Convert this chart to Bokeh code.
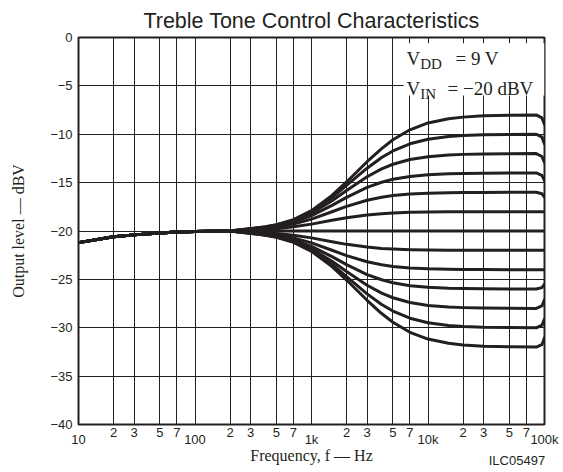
from bokeh.plotting import figure
from bokeh.models import (Range1d, FixedTicker, CustomJSTickFormatter, Label, BoxAnnotation,
                          LogAxis)
from bokeh.embed import file_html
from bokeh.resources import INLINE

INK = "#231f20"

# ---- data ----
freq_hz = [10, 20, 30, 50, 70, 100, 200, 300, 400, 500, 700, 1000, 1500, 2000, 3000, 4000,
           5000, 7000, 10000, 15000, 20000, 30000, 50000, 85000, 95000, 100000]

low_part = [-21.2, -20.6, -20.4, -20.2, -20.1, -20.05, -20.0]

boost_12 = low_part + [-19.75, -19.57, -19.35, -18.82, -17.90, -16.32, -14.93, -12.84, -11.48, -10.57, -9.54, -8.83, -8.39, -8.23, -8.10, -8.04, -8.0, -8.3, -9.0]
boost_10 = low_part + [-19.76, -19.59, -19.38, -18.87, -18.00, -16.54, -15.29, -13.51, -12.41, -11.73, -10.99, -10.52, -10.24, -10.14, -10.06, -10.02, -10.0, -10.3, -11.0]
boost_8 = low_part + [-19.78, -19.62, -19.42, -18.96, -18.16, -16.87, -15.81, -14.39, -13.58, -13.10, -12.61, -12.32, -12.14, -12.08, -12.04, -12.01, -12.0, -12.3, -12.9]
boost_6 = low_part + [-19.81, -19.66, -19.49, -19.08, -18.41, -17.35, -16.53, -15.50, -14.96, -14.65, -14.36, -14.18, -14.08, -14.05, -14.02, -14.01, -14.0, -14.25, -14.8]
boost_4 = low_part + [-19.84, -19.73, -19.59, -19.28, -18.77, -18.01, -17.46, -16.82, -16.51, -16.34, -16.18, -16.09, -16.04, -16.02, -16.01, -16.00, -16.0, -16.15, -16.5]
boost_2 = low_part + [-19.91, -19.84, -19.76, -19.57, -19.29, -18.89, -18.63, -18.34, -18.21, -18.14, -18.07, -18.04, -18.02, -18.01, -18.00, -18.00, -18.0, -18.0, -18.0]
flat_0 = low_part + [-20.0] * 19
cut_2 = low_part + [-20.09, -20.16, -20.25, -20.43, -20.71, -21.11, -21.38, -21.66, -21.80, -21.86, -21.93, -21.97, -21.98, -21.99, -22.00, -22.00, -22.0, -22.0, -22.0]
cut_4 = low_part + [-20.16, -20.27, -20.41, -20.72, -21.23, -21.99, -22.54, -23.18, -23.49, -23.66, -23.82, -23.91, -23.96, -23.98, -23.99, -24.00, -24.0, -24.0, -24.0]
cut_6 = low_part + [-20.19, -20.34, -20.51, -20.92, -21.59, -22.65, -23.47, -24.50, -25.04, -25.35, -25.65, -25.82, -25.92, -25.95, -25.98, -25.99, -26.0, -25.85, -25.5]
cut_8 = low_part + [-20.22, -20.38, -20.58, -21.04, -21.84, -23.13, -24.19, -25.61, -26.42, -26.90, -27.39, -27.69, -27.86, -27.92, -27.96, -27.99, -28.0, -27.75, -27.1]
cut_10 = low_part + [-20.24, -20.41, -20.62, -21.13, -22.00, -23.46, -24.71, -26.50, -27.59, -28.27, -29.01, -29.48, -29.76, -29.86, -29.94, -29.98, -30.0, -29.75, -29.1]
cut_12 = low_part + [-20.25, -20.43, -20.65, -21.18, -22.10, -23.68, -25.07, -27.16, -28.53, -29.43, -30.47, -31.17, -31.61, -31.78, -31.90, -31.96, -32.0, -31.75, -31.05]

all_curves = [boost_12, boost_10, boost_8, boost_6, boost_4, boost_2, flat_0,
              cut_2, cut_4, cut_6, cut_8, cut_10, cut_12]

decade_ticks = [10, 100, 1000, 10000, 100000]
decade_labels = ["10", "100", "1k", "10k", "100k"]
minor_ticks = [20, 30, 50, 70, 200, 300, 500, 700, 2000, 3000, 5000, 7000, 20000, 30000, 50000, 70000]
minor_labels = ["2", "3", "5", "7"] * 4
y_ticks = [0, -5, -10, -15, -20, -25, -30, -35, -40]
id_anchor = [58000]
id_text = ["ILC05497"]

LOOKUP = """
for (let i = 0; i < tvals.length; i++) {
  if (Math.abs(tvals[i] - tick) <= 1e-6 * tvals[i]) return tlabels[i];
}
return '';
"""

# ---- figure ----
p = figure(width=562, height=471, x_axis_type="log",
           x_range=Range1d(10, 100000), y_range=Range1d(-40, 0),
           output_backend="svg", toolbar_location=None,
           min_border_left=78, min_border_right=18, min_border_top=37, min_border_bottom=47)

p.title.text = "Treble Tone Control Characteristics"
p.title.align = "center"
p.title.text_font = "Liberation Sans"
p.title.text_font_size = "21.5px"
p.title.text_font_style = "normal"
p.title.text_color = INK
p.title.standoff = 9

grid_x = sorted(decade_ticks + minor_ticks)
p.xgrid.ticker = FixedTicker(ticks=grid_x)
p.ygrid.ticker = FixedTicker(ticks=y_ticks)
for g in (p.xgrid, p.ygrid):
    g.grid_line_color = INK
    g.grid_line_width = 1
    g.grid_line_alpha = 1

p.outline_line_color = INK
p.outline_line_width = 2
p.background_fill_color = "white"


def style_x(ax, size="13px"):
    ax.major_label_text_font = "Liberation Sans"
    ax.major_label_text_font_size = size
    ax.major_label_text_color = INK
    ax.major_tick_in = 0
    ax.major_tick_out = 0
    ax.minor_tick_in = 0
    ax.minor_tick_out = 0
    ax.axis_line_color = None


# inner x axis: 2 3 5 7 digits
xa = p.xaxis[0]
xa.ticker = FixedTicker(ticks=minor_ticks)
xa.formatter = CustomJSTickFormatter(args=dict(tvals=minor_ticks, tlabels=minor_labels), code=LOOKUP)
style_x(xa)
xa.major_label_standoff = 3

# outer x axis: decade labels, sitting slightly lower, plus the axis title
xb = LogAxis(ticker=FixedTicker(ticks=decade_ticks),
             formatter=CustomJSTickFormatter(args=dict(tvals=decade_ticks, tlabels=decade_labels), code=LOOKUP))
style_x(xb)
xb.major_label_standoff = -8
xb.axis_label = "Frequency, f \u2014 Hz"
xb.axis_label_text_font = "Liberation Serif"
xb.axis_label_text_font_size = "16px"
xb.axis_label_text_font_style = "normal"
xb.axis_label_text_color = INK
xb.axis_label_standoff = -3
p.add_layout(xb, "below")

# drawing id, bottom right (an extra label-only axis pulled up beside the axis title)
xc = LogAxis(ticker=FixedTicker(ticks=id_anchor),
             formatter=CustomJSTickFormatter(args=dict(tvals=id_anchor, tlabels=id_text), code=LOOKUP))
style_x(xc, "13px")
xc.major_label_standoff = -14
p.add_layout(xc, "below")

ya = p.yaxis[0]
ya.ticker = FixedTicker(ticks=y_ticks)
ya.formatter = CustomJSTickFormatter(code="return tick < 0 ? '\\u2212' + Math.abs(tick) : String(tick);")
ya.major_label_text_font = "Liberation Sans"
ya.major_label_text_font_size = "13px"
ya.major_label_text_color = INK
ya.major_label_standoff = 6
ya.major_tick_in = 0
ya.major_tick_out = 0
ya.minor_tick_in = 0
ya.minor_tick_out = 0
ya.axis_line_color = None
ya.axis_label = "Output level \u2014 dBV"
ya.axis_label_text_font = "Liberation Serif"
ya.axis_label_text_font_size = "16px"
ya.axis_label_text_font_style = "normal"
ya.axis_label_text_color = INK
ya.axis_label_standoff = 20

# legend box (white, hides grid)
p.add_layout(BoxAnnotation(left=6200, right=100000, top=-0.6, bottom=-6.0,
                           fill_color="white", fill_alpha=1, line_color=None, level="underlay"))

for ys in all_curves:
    p.line(freq_hz, ys, line_color=INK, line_width=3, line_join="round", line_cap="round")


def txt(x, y, t, size):
    p.add_layout(Label(x=x, y=y, text=t, text_align="left", text_baseline="alphabetic",
                       text_font="Liberation Serif", text_font_size=size, text_color=INK))


txt(6540, -2.2, "V", "19px")
txt(8570, -2.74, "DD", "15px")
txt(17200, -2.2, "= 9 V", "19px")
txt(6540, -5.32, "V", "19px")
txt(8570, -5.84, "IN", "15px")
txt(14700, -5.32, "= \u221220 dBV", "19px")

open("out.html", "w").write(file_html(p, INLINE))
